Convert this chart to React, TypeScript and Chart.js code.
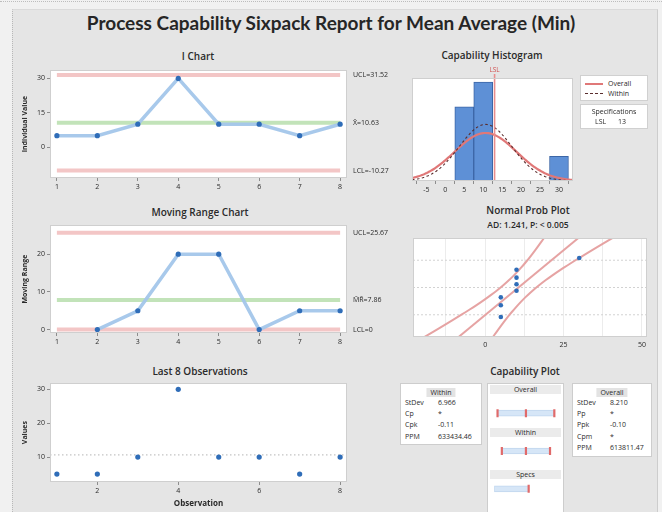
import React, { useEffect, useRef } from "react";
import { Chart, registerables } from "chart.js";

Chart.register(...registerables);

// ---------- data ----------
const observations = [1, 2, 3, 4, 5, 6, 7, 8];
const meanAverage = [5, 5, 10, 30, 10, 10, 5, 10];
const lowerSpec = 13;
const histBinCenters = [5, 10, 15, 20, 25, 30];
const histBinCounts = [3, 4, 0, 0, 0, 1];
const iChartTicks = [0, 15, 30];
const mrChartTicks = [0, 10, 20];
const lastObsYTicks = [10, 20, 30];
const lastObsXTicks = [2, 4, 6, 8];
const histXTicks = [-5, 0, 5, 10, 15, 20, 25, 30];
const probXTicks = [-12.5, 0, 12.5, 25, 37.5, 50];
const probXLabels = [0, 25, 50];
const probGridPercents = [10, 50, 90];
const capRows = ["Overall", "Within", "Specs"];

// ---------- statistics ----------
const n = meanAverage.length;
const movingRanges = meanAverage.slice(1).map((v, i) => Math.abs(v - meanAverage[i]));
const xBar = meanAverage.reduce((a, b) => a + b, 0) / n;
const mrBar = movingRanges.reduce((a, b) => a + b, 0) / movingRanges.length;
const sigmaWithin = mrBar / 1.128;
const sigmaOverall = Math.sqrt(meanAverage.reduce((a, v) => a + (v - xBar) ** 2, 0) / (n - 1));
const iUcl = xBar + 3 * sigmaWithin;
const iLcl = xBar - 3 * sigmaWithin;
const mrUcl = 3.267 * mrBar;

function normCdf(z: number) {
  const t = 1 / (1 + 0.2316419 * Math.abs(z));
  const d = 0.3989422804 * Math.exp((-z * z) / 2);
  const p = d * t * (0.31938153 + t * (-0.356563782 + t * (1.781477937 + t * (-1.821255978 + t * 1.330274429))));
  return z > 0 ? 1 - p : p;
}

function normInv(p: number) {
  const a = [-39.69683028665376, 220.9460984245205, -275.9285104469687, 138.357751867269, -30.66479806614716, 2.506628277459239];
  const b = [-54.47609879822406, 161.5858368580409, -155.6989798598866, 66.80131188771972, -13.28068155288572];
  const c = [-0.007784894002430293, -0.3223964580411365, -2.400758277161838, -2.549732539343734, 4.374664141464968, 2.938163982698783];
  const d = [0.007784695709041462, 0.3224671290700398, 2.445134137142996, 3.754408661907416];
  const pl = 0.02425;
  if (p < pl) {
    const q = Math.sqrt(-2 * Math.log(p));
    return (((((c[0] * q + c[1]) * q + c[2]) * q + c[3]) * q + c[4]) * q + c[5]) / ((((d[0] * q + d[1]) * q + d[2]) * q + d[3]) * q + 1);
  }
  if (p <= 1 - pl) {
    const q = p - 0.5;
    const r = q * q;
    return ((((((a[0] * r + a[1]) * r + a[2]) * r + a[3]) * r + a[4]) * r + a[5]) * q) / (((((b[0] * r + b[1]) * r + b[2]) * r + b[3]) * r + b[4]) * r + 1);
  }
  const q = Math.sqrt(-2 * Math.log(1 - p));
  return -(((((c[0] * q + c[1]) * q + c[2]) * q + c[3]) * q + c[4]) * q + c[5]) / ((((d[0] * q + d[1]) * q + d[2]) * q + d[3]) * q + 1);
}

const sorted = [...meanAverage].sort((a, b) => a - b);
const cdfSorted = sorted.map((v) => normCdf((v - xBar) / sigmaOverall));
let adSum = 0;
for (let i = 0; i < n; i++) adSum += (2 * i + 1) * (Math.log(cdfSorted[i]) + Math.log(1 - cdfSorted[n - 1 - i]));
const adStat = -n - adSum / n;

const cpk = (xBar - lowerSpec) / (3 * sigmaWithin);
const ppk = (xBar - lowerSpec) / (3 * sigmaOverall);
const ppmWithin = normCdf((lowerSpec - xBar) / sigmaWithin) * 1e6;
const ppmOverall = normCdf((lowerSpec - xBar) / sigmaOverall) * 1e6;

// ---------- styling ----------
const FONT = "'Open Sans', 'Noto Sans', sans-serif";
const TITLE_FONT = "Lato, 'Open Sans', sans-serif";
const LIMIT_RED = "#f3c6c6";
const CENTER_GREEN = "#c2e3b9";
const SERIES_LINE = "rgba(163,198,234,0.95)";
const POINT_BLUE = "#2f6db8";
const TEXT = "#2a2a2a";
const tickFont = { family: FONT, size: 7 };

const X_MIN = 0.83;
const X_MAX = 8.17;

const plotFrame = {
  id: "plotFrame",
  beforeDraw(chart: any) {
    const { ctx, chartArea: a } = chart;
    ctx.save();
    ctx.fillStyle = "#ffffff";
    ctx.fillRect(a.left, a.top, a.width, a.height);
    ctx.restore();
  },
  afterDraw(chart: any) {
    const { ctx, chartArea: a } = chart;
    ctx.save();
    ctx.strokeStyle = "#cfcfcf";
    ctx.lineWidth = 1;
    ctx.strokeRect(Math.round(a.left) + 0.5, Math.round(a.top) + 0.5, Math.round(a.width) - 1, Math.round(a.height) - 1);
    ctx.restore();
  },
};

function sideLabels(items: { value: number; text: string }[]) {
  return {
    id: "sideLabels",
    afterDraw(chart: any) {
      const { ctx, chartArea, scales } = chart;
      ctx.save();
      ctx.font = `7px ${FONT}`;
      ctx.fillStyle = TEXT;
      ctx.textBaseline = "middle";
      ctx.textAlign = "left";
      items.forEach((it) => ctx.fillText(it.text, chartArea.right + 6, scales.y.getPixelForValue(it.value)));
      ctx.restore();
    },
  };
}

function xAxis(min: number, max: number, ticks: number[], height: number, extra: any = {}) {
  return {
    type: "linear",
    min,
    max,
    offset: false,
    afterBuildTicks: (s: any) => {
      s.ticks = ticks.map((v) => ({ value: v }));
    },
    afterFit: (s: any) => {
      s.height = height;
    },
    grid: { display: true, drawOnChartArea: false, drawTicks: true, tickLength: 3, color: "#8d8d8d" },
    border: { display: false },
    ticks: { font: tickFont, color: TEXT, padding: 2, maxRotation: 0, autoSkip: false },
    ...extra,
  };
}

function yAxis(min: number, max: number, ticks: number[], width: number, title: string) {
  return {
    min,
    max,
    afterBuildTicks: (s: any) => {
      s.ticks = ticks.map((v) => ({ value: v }));
    },
    afterFit: (s: any) => {
      s.width = width;
    },
    grid: { display: true, drawOnChartArea: false, drawTicks: true, tickLength: 3, color: "#8d8d8d" },
    border: { display: false },
    ticks: { font: tickFont, color: TEXT, padding: 2, autoSkip: false },
    title: { display: true, text: title, font: { family: FONT, size: 7, weight: "bold" }, color: TEXT, padding: { top: 7, bottom: 0 } },
  };
}

function baseOptions(padding: any, scales: any, extra: any = {}) {
  return {
    responsive: false,
    animation: false,
    events: [],
    layout: { padding },
    plugins: { legend: { display: false }, tooltip: { enabled: false }, title: { display: false } },
    scales,
    ...extra,
  };
}

const seriesDataset = (points: any[]) => ({
  data: points,
  showLine: true,
  borderColor: SERIES_LINE,
  borderWidth: 3.5,
  pointRadius: 2.6,
  pointBackgroundColor: POINT_BLUE,
  pointBorderColor: POINT_BLUE,
  pointBorderWidth: 0,
});

const levelLine = (v: number, color: string, width = 4) => ({
  data: [
    { x: observations[0], y: v },
    { x: observations[observations.length - 1], y: v },
  ],
  showLine: true,
  borderColor: color,
  borderWidth: width,
  pointRadius: 0,
});

type Box = { left: number; top: number; width: number; height: number };

function Plot({ box, config }: { box: Box; config: () => any }) {
  const ref = useRef<HTMLCanvasElement>(null);
  useEffect(() => {
    const chart = new Chart(ref.current as HTMLCanvasElement, config());
    return () => chart.destroy();
  }, []);
  return (
    <canvas
      ref={ref}
      width={box.width}
      height={box.height}
      style={{ position: "absolute", left: box.left, top: box.top, width: box.width, height: box.height }}
    />
  );
}

function Label({ x, y, text, size = 7, weight = 400, align = "left", color = TEXT, family = FONT }: any) {
  const tx = align === "center" ? "-50%" : align === "right" ? "-100%" : "0";
  return (
    <div
      style={{
        position: "absolute",
        left: x,
        top: y,
        transform: `translate(${tx},-50%)`,
        fontSize: size,
        fontWeight: weight,
        color,
        fontFamily: family,
        whiteSpace: "nowrap",
        lineHeight: 1.15,
      }}
    >
      {text}
    </div>
  );
}

// ---------- chart configs ----------
const iChartConfig = () => ({
  type: "scatter",
  data: {
    datasets: [
      seriesDataset(observations.map((o, i) => ({ x: o, y: meanAverage[i] }))),
      levelLine(xBar, CENTER_GREEN),
      levelLine(iUcl, LIMIT_RED),
      levelLine(iLcl, LIMIT_RED),
    ],
  },
  options: baseOptions({ top: 6, right: 59 }, {
    x: xAxis(X_MIN, X_MAX, observations, 18),
    y: yAxis(-13.5, 33.6, iChartTicks, 36, "Individual Value"),
  }),
  plugins: [
    plotFrame,
    sideLabels([
      { value: iUcl, text: `UCL=${iUcl.toFixed(2)}` },
      { value: xBar, text: `X\u0304=${xBar.toFixed(2)}` },
      { value: iLcl, text: `LCL=${iLcl.toFixed(2)}` },
    ]),
  ],
});

const mrChartConfig = () => ({
  type: "scatter",
  data: {
    datasets: [
      seriesDataset(movingRanges.map((v, i) => ({ x: observations[i + 1], y: v }))),
      levelLine(mrBar, CENTER_GREEN),
      levelLine(mrUcl, LIMIT_RED),
      levelLine(0, LIMIT_RED),
    ],
  },
  options: baseOptions({ top: 6, right: 59 }, {
    x: xAxis(X_MIN, X_MAX, observations, 18),
    y: yAxis(-0.9, 27.7, mrChartTicks, 36, "Moving Range"),
  }),
  plugins: [
    plotFrame,
    sideLabels([
      { value: mrUcl, text: `UCL=${mrUcl.toFixed(2)}` },
      { value: mrBar, text: `M\u0304R\u0304=${mrBar.toFixed(2)}` },
      { value: 0, text: "LCL=0" },
    ]),
  ],
});

const lastObsConfig = () => ({
  type: "scatter",
  data: {
    datasets: [
      {
        data: observations.map((o, i) => ({ x: o, y: meanAverage[i] })),
        showLine: false,
        pointRadius: 2.6,
        pointBackgroundColor: POINT_BLUE,
        pointBorderWidth: 0,
      },
      {
        data: [
          { x: X_MIN, y: xBar },
          { x: X_MAX, y: xBar },
        ],
        showLine: true,
        borderColor: "#c4c4c4",
        borderWidth: 1.2,
        borderDash: [1.5, 2.5],
        pointRadius: 0,
      },
    ],
  },
  options: baseOptions({ top: 6, right: 59 }, {
    x: xAxis(X_MIN, X_MAX, lastObsXTicks, 30, {
      title: { display: true, text: "Observation", font: { family: FONT, size: 8, weight: "bold" }, color: TEXT, padding: { top: 0, bottom: 3 } },
    }),
    y: yAxis(2.65, 31.8, lastObsYTicks, 36, "Values"),
  }),
  plugins: [plotFrame],
});

const H_MIN = -8.8;
const H_MAX = 33.7;
const H_TOP = 4.17;

function histCurve(sigma: number) {
  const binWidth = histBinCenters[1] - histBinCenters[0];
  const pts: { x: number; y: number }[] = [];
  const steps = 120;
  for (let k = 0; k <= steps; k++) {
    const x = H_MIN + ((H_MAX - H_MIN) * k) / steps;
    const z = (x - xBar) / sigma;
    pts.push({ x, y: (n * binWidth * Math.exp((-z * z) / 2)) / (sigma * Math.sqrt(2 * Math.PI)) });
  }
  return pts;
}

const lslMarker = {
  id: "lslMarker",
  afterDatasetsDraw(chart: any) {
    const { ctx, chartArea, scales } = chart;
    const px = scales.x.getPixelForValue(lowerSpec);
    ctx.save();
    ctx.strokeStyle = "#e98e8e";
    ctx.lineWidth = 1.6;
    ctx.beginPath();
    ctx.moveTo(px, chartArea.top - 4);
    ctx.lineTo(px, chartArea.bottom);
    ctx.stroke();
    ctx.font = `6.5px ${FONT}`;
    ctx.fillStyle = "#d05050";
    ctx.textAlign = "center";
    ctx.textBaseline = "middle";
    ctx.fillText("LSL", px, chartArea.top - 8);
    ctx.restore();
  },
};

const histConfig = () => ({
  type: "bar",
  data: {
    datasets: [
      {
        type: "line",
        data: histCurve(sigmaWithin),
        borderColor: "#5a2d2d",
        borderWidth: 1.1,
        borderDash: [2.5, 2.5],
        pointRadius: 0,
      },
      {
        type: "line",
        data: histCurve(sigmaOverall),
        borderColor: "#e07878",
        borderWidth: 2.2,
        pointRadius: 0,
      },
      {
        type: "bar",
        data: histBinCenters.map((c, i) => ({ x: c, y: histBinCounts[i] })),
        backgroundColor: "#5e90d6",
        borderColor: "#3c66a6",
        borderWidth: 1,
        barPercentage: 1,
        categoryPercentage: 1,
      },
    ],
  },
  options: baseOptions({ top: 18, right: 7, left: 12 }, {
    x: xAxis(H_MIN, H_MAX, histXTicks, 19),
    y: { display: false, min: 0, max: H_TOP },
  }),
  plugins: [plotFrame, lslMarker],
});

const Z_EDGE = normInv(0.99);

function bandLine(sign: number) {
  const pts: { x: number; y: number }[] = [];
  const steps = 40;
  for (let k = 0; k <= steps; k++) {
    const z = -Z_EDGE + (2 * Z_EDGE * k) / steps;
    const half = 1.96 * sigmaOverall * Math.sqrt(1 / n + (z * z) / (2 * n));
    pts.push({ x: xBar + sigmaOverall * z + sign * half, y: z });
  }
  return pts;
}

const P_MIN = -23;
const P_MAX = 51.6;

const probConfig = () => ({
  type: "scatter",
  data: {
    datasets: [
      {
        data: sorted.map((v, i) => ({ x: v, y: normInv((i + 1 - 0.3) / (n + 0.4)) })),
        showLine: false,
        pointRadius: 2.3,
        pointBackgroundColor: POINT_BLUE,
        pointBorderWidth: 0,
      },
      {
        data: [
          { x: xBar - sigmaOverall * Z_EDGE, y: -Z_EDGE },
          { x: xBar + sigmaOverall * Z_EDGE, y: Z_EDGE },
        ],
        showLine: true,
        borderColor: "#e6a3a3",
        borderWidth: 2,
        pointRadius: 0,
      },
      { data: bandLine(-1), showLine: true, borderColor: "#e6a3a3", borderWidth: 2, pointRadius: 0 },
      { data: bandLine(1), showLine: true, borderColor: "#e6a3a3", borderWidth: 2, pointRadius: 0 },
      ...probGridPercents.map((p) => ({
        data: [
          { x: P_MIN, y: normInv(p / 100) },
          { x: P_MAX, y: normInv(p / 100) },
        ],
        showLine: true,
        borderColor: "#d2d2d2",
        borderWidth: 1,
        borderDash: [2, 2],
        pointRadius: 0,
      })),
    ],
  },
  options: baseOptions({ top: 6, right: 5, left: 13 }, {
    x: {
      ...xAxis(P_MIN, P_MAX, probXTicks, 15),
      grid: { display: true, drawOnChartArea: true, drawTicks: false, color: "#ececec" },
      ticks: {
        font: tickFont,
        color: TEXT,
        padding: 4,
        maxRotation: 0,
        autoSkip: false,
        callback: (v: number) => (probXLabels.includes(v) ? String(v) : ""),
      },
    },
    y: { display: false, min: -Z_EDGE, max: Z_EDGE },
  }),
  plugins: [plotFrame],
});

const CAP_MIN = -16.9;
const CAP_MAX = 37.4;
const overallLo = xBar - 3 * sigmaOverall;
const overallHi = xBar + 3 * sigmaOverall;
const withinLo = xBar - 3 * sigmaWithin;
const withinHi = xBar + 3 * sigmaWithin;

const capConfig = () => ({
  type: "bar",
  data: {
    labels: capRows,
    datasets: [
      {
        type: "line",
        data: [
          { x: overallLo, y: capRows[0] },
          { x: xBar, y: capRows[0] },
          { x: overallHi, y: capRows[0] },
          { x: withinLo, y: capRows[1] },
          { x: xBar, y: capRows[1] },
          { x: withinHi, y: capRows[1] },
          { x: lowerSpec, y: capRows[2] },
        ],
        showLine: false,
        pointStyle: "line",
        rotation: 90,
        pointRadius: 4,
        pointBorderColor: "#e06a6a",
        pointBorderWidth: 2.2,
      },
      {
        type: "bar",
        data: [
          [overallLo, overallHi],
          [withinLo, withinHi],
          [CAP_MIN, lowerSpec],
        ],
        backgroundColor: "#d6e6f7",
        borderColor: "#c0d6ee",
        borderWidth: 1,
        barThickness: 6,
        borderSkipped: false,
      },
    ],
  },
  options: baseOptions({ top: 0, right: 0, left: 0, bottom: 0 }, {
    x: { type: "linear", min: CAP_MIN, max: CAP_MAX, display: false },
    y: { type: "category", display: false },
  }, { indexAxis: "y" }),
});

// ---------- layout ----------
function StatBox({ left, top, width, height, header, rows }: any) {
  return (
    <div
      style={{
        position: "absolute",
        left,
        top,
        width,
        height,
        background: "#ffffff",
        border: "1px solid #cdcdcd",
        boxSizing: "border-box",
      }}
    >
      <div
        style={{
          position: "absolute",
          left: "50%",
          top: 4,
          transform: "translateX(-50%)",
          background: "#e3e3e3",
          padding: "0 4px",
          fontSize: 7,
          lineHeight: "9px",
          fontFamily: FONT,
          color: TEXT,
          whiteSpace: "nowrap",
        }}
      >
        {header}
      </div>
      {rows.map((r: string[], i: number) => (
        <React.Fragment key={r[0]}>
          <Label x={4} y={19 + i * 11.2} text={r[0]} />
          <Label x={37} y={19 + i * 11.2} text={r[1]} />
        </React.Fragment>
      ))}
    </div>
  );
}

function StripLabel({ y, text }: { y: number; text: string }) {
  return (
    <div
      style={{
        position: "absolute",
        left: 490,
        top: y - 4.5,
        width: 71,
        height: 9,
        background: "#ebebeb",
        fontSize: 7,
        lineHeight: "9px",
        textAlign: "center",
        fontFamily: FONT,
        color: TEXT,
      }}
    >
      {text}
    </div>
  );
}

export default function App() {
  const fmtPpm = (v: number) => v.toFixed(2);
  return (
    <div
      style={{
        position: "fixed",
        left: 0,
        top: 0,
        width: 662,
        height: 512,
        background: "#f1f1f1",
        overflow: "hidden",
        fontFamily: FONT,
      }}
    >
      <div style={{ position: "absolute", left: 0, top: 1, width: 662, borderTop: "1px dotted #bdbdbd" }} />
      <div
        style={{
          position: "absolute",
          left: 12,
          top: 9,
          width: 646,
          height: 503,
          background: "#e5e5e5",
          borderLeft: "1px dotted #b8b8b8",
          borderTop: "1px solid #dadada",
          borderRight: "1px solid #cdcdcd",
          boxSizing: "border-box",
        }}
      />

      <Label x={331} y={23} text="Process Capability Sixpack Report for Mean Average (Min)" size={19} weight={700} align="center" family={TITLE_FONT} color="#262626" />

      <Label x={198} y={57} text="I Chart" size={10} weight={600} align="center" />
      <Label x={492} y={56} text="Capability Histogram" size={10} weight={600} align="center" />
      <Label x={200} y={213} text="Moving Range Chart" size={10} weight={600} align="center" />
      <Label x={528} y={211} text="Normal Prob Plot" size={10} weight={600} align="center" />
      <Label x={528} y={225} text={`AD: ${adStat.toFixed(3)}, P: < 0.005`} size={8.5} weight={600} align="center" />
      <Label x={200} y={372} text="Last 8 Observations" size={10} weight={600} align="center" />
      <Label x={525} y={372} text="Capability Plot" size={10} weight={600} align="center" />

      <Plot box={{ left: 14, top: 64, width: 392, height: 132 }} config={iChartConfig} />
      <Plot box={{ left: 14, top: 219, width: 392, height: 132 }} config={mrChartConfig} />
      <Plot box={{ left: 14, top: 377, width: 392, height: 135 }} config={lastObsConfig} />
      <Plot box={{ left: 400, top: 60, width: 180, height: 140 }} config={histConfig} />
      <Plot box={{ left: 400, top: 232, width: 252, height: 120 }} config={probConfig} />

      {/* histogram legend */}
      <div style={{ position: "absolute", left: 580, top: 75, width: 68, height: 26, background: "#fff", border: "1px solid #d0d0d0", boxSizing: "border-box" }}>
        <div style={{ position: "absolute", left: 4, top: 7, width: 18, borderTop: "2px solid #e07878" }} />
        <Label x={27} y={8} text="Overall" />
        <div style={{ position: "absolute", left: 4, top: 17, width: 18, borderTop: "1.5px dashed #5a2d2d" }} />
        <Label x={27} y={18} text="Within" />
      </div>
      <div style={{ position: "absolute", left: 580, top: 104, width: 68, height: 25, background: "#fff", border: "1px solid #d0d0d0", boxSizing: "border-box" }}>
        <Label x={33} y={7} text="Specifications" align="center" />
        <Label x={14} y={17} text="LSL" />
        <Label x={37} y={17} text={String(lowerSpec)} />
      </div>

      {/* capability plot */}
      <StatBox
        left={400}
        top={383}
        width={82}
        height={62}
        header="Within"
        rows={[
          ["StDev", sigmaWithin.toFixed(3)],
          ["Cp", "*"],
          ["Cpk", cpk.toFixed(2)],
          ["PPM", fmtPpm(ppmWithin)],
        ]}
      />
      <StatBox
        left={572}
        top={383}
        width={80}
        height={74}
        header="Overall"
        rows={[
          ["StDev", sigmaOverall.toFixed(3)],
          ["Pp", "*"],
          ["Ppk", ppk.toFixed(2)],
          ["Cpm", "*"],
          ["PPM", fmtPpm(ppmOverall)],
        ]}
      />
      <div style={{ position: "absolute", left: 487, top: 383, width: 77, height: 130, background: "#fff", border: "1px solid #cdcdcd", boxSizing: "border-box" }} />
      <StripLabel y={389} text="Overall" />
      <StripLabel y={432} text="Within" />
      <StripLabel y={474} text="Specs" />
      <Plot box={{ left: 488, top: 388, width: 75, height: 126 }} config={capConfig} />
    </div>
  );
}
